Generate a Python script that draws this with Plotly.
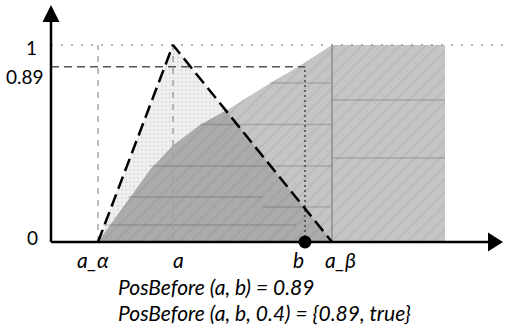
import plotly.graph_objects as go

# ---- data (abstract units) ----
a_alpha = 0.47
a_peak = 1.22
b_pos = 2.54
a_beta = 2.81
block_end = 3.94
pos_value = 0.89

# possibility distribution (triangle)
tri_x = [a_alpha, a_peak, a_beta]
tri_y = [0.0, 1.0, 0.0]

# cumulative "before" curve (upper edge of grey area)
cum_x = [0.47, 0.99, 1.22, 1.49, 1.76, 2.19, 2.52, 2.81, 3.94]
cum_y = [0.0, 0.365, 0.49, 0.594, 0.67, 0.806, 0.905, 1.0, 1.0]

# faint hand-drawn strokes inside the grey area: level, start, end
stroke_y = [0.807, 0.596, 0.386, 0.228, 0.178, 0.086, 0.721, 0.426]
stroke_x0 = [2.19, 1.49, 0.99, 0.77, 2.12, 0.52, 2.81, 2.81]
stroke_x1 = [2.81, 2.81, 2.81, 2.12, 2.79, 2.45, 3.94, 3.94]

x_labels = ["a_α", "a", "b", "a_β"]
x_label_pos = [a_alpha, a_peak, b_pos, a_beta]
y_labels = ["0", "0.89", "1"]
y_label_pos = [0.0, pos_value, 1.0]

line1 = "PosBefore (a, b) = 0.89"
line2 = "PosBefore (a, b, 0.4) = {0.89, true}"

# ---- figure ----
W, H = 505, 329
x_range = [-0.51, 4.54]
y_range = [-0.4416, 1.2284]
px_x = (x_range[1] - x_range[0]) / W
px_y = (y_range[1] - y_range[0]) / H

fig = go.Figure()

# triangle light fill
fig.add_trace(go.Scatter(
    x=tri_x + [tri_x[0]], y=tri_y + [tri_y[0]], mode="lines", fill="toself",
    fillcolor="#eeeeee", line=dict(width=0),
    fillpattern=dict(shape=".", bgcolor="#f2f2f2", fgcolor="#cfcfcf", size=4, solidity=0.4),
    hoverinfo="skip", showlegend=False))

# grey area under cumulative curve
gx = cum_x + [cum_x[-1], cum_x[0]]
gy = cum_y + [0.0, 0.0]
fig.add_trace(go.Scatter(
    x=gx, y=gy, mode="lines", fill="toself", fillcolor="#c4c4c4", line=dict(width=0),
    fillpattern=dict(shape="/", bgcolor="#c5c5c5", fgcolor="#b2b2b2", size=9, solidity=0.25),
    hoverinfo="skip", showlegend=False))

# overlap region: cumulative curve up to where it meets the triangle's right edge
def seg_intersect(p1, p2, p3, p4):
    x1, y1 = p1; x2, y2 = p2; x3, y3 = p3; x4, y4 = p4
    d = (x1 - x2) * (y3 - y4) - (y1 - y2) * (x3 - x4)
    if d == 0:
        return None
    t = ((x1 - x3) * (y3 - y4) - (y1 - y3) * (x3 - x4)) / d
    u = -((x1 - x2) * (y1 - y3) - (y1 - y2) * (x1 - x3)) / d
    if 0 <= t <= 1 and 0 <= u <= 1:
        return (x1 + t * (x2 - x1), y1 + t * (y2 - y1))
    return None

ox, oy = [cum_x[0]], [cum_y[0]]
for i in range(len(cum_x) - 1):
    p = seg_intersect((cum_x[i], cum_y[i]), (cum_x[i + 1], cum_y[i + 1]),
                      (tri_x[1], tri_y[1]), (tri_x[2], tri_y[2]))
    if p is not None and cum_x[i + 1] > tri_x[1]:
        ox.append(p[0]); oy.append(p[1])
        break
    ox.append(cum_x[i + 1]); oy.append(cum_y[i + 1])
ox += [tri_x[2], cum_x[0]]
oy += [0.0, 0.0]
fig.add_trace(go.Scatter(
    x=ox, y=oy, mode="lines", fill="toself", fillcolor="#aaaaaa", line=dict(width=0),
    fillpattern=dict(shape="/", bgcolor="#ababab", fgcolor="#9b9b9b", size=9, solidity=0.25),
    hoverinfo="skip", showlegend=False))

def add_line(xs, ys, color, width, dash="solid"):
    fig.add_trace(go.Scatter(x=xs, y=ys, mode="lines",
                             line=dict(color=color, width=width, dash=dash),
                             hoverinfo="skip", showlegend=False))

# faint strokes
for yv, x0, x1 in zip(stroke_y, stroke_x0, stroke_x1):
    add_line([x0, x1], [yv, yv], "rgba(60,60,60,0.22)", 1.5)

# guide lines
add_line([0, x_range[1]], [1, 1], "#9a9a9a", 1.5, "2px,8px")
add_line([0, b_pos], [pos_value, pos_value], "#555555", 1.5, "8px,5px")
add_line([a_alpha, a_alpha], [0, 1], "#a8a8a8", 1.5, "6px,6px")
add_line([a_peak, a_peak], [0, 1], "#a0a0a0", 1.5, "6px,6px")
add_line([b_pos, b_pos], [0, pos_value], "#444444", 1.5, "2px,3px")
add_line([a_beta, a_beta], [0, 1], "#8c8c8c", 1.5)

# dashed triangle outline
add_line(tri_x, tri_y, "#000000", 2.5, "13px,6px")

# axes with arrowheads
x_arrow_base = 4.37
y_arrow_base = 1.117
add_line([0, x_arrow_base], [0, 0], "#000000", 2.5)
add_line([0, 0], [0, y_arrow_base], "#000000", 2.5)
fig.add_trace(go.Scatter(
    x=[x_arrow_base, x_range[1] - 2 * px_x, x_arrow_base, x_arrow_base],
    y=[9.5 * px_y, 0, -9.5 * px_y, 9.5 * px_y],
    mode="lines", fill="toself", fillcolor="#000000", line=dict(width=0, color="#000000"),
    hoverinfo="skip", showlegend=False))
fig.add_trace(go.Scatter(
    x=[-8.5 * px_x, 0, 8.5 * px_x, -8.5 * px_x],
    y=[y_arrow_base, y_range[1] - 5 * px_y, y_arrow_base, y_arrow_base],
    mode="lines", fill="toself", fillcolor="#000000", line=dict(width=0, color="#000000"),
    hoverinfo="skip", showlegend=False))

# point b
fig.add_trace(go.Scatter(x=[b_pos], y=[0], mode="markers",
                         marker=dict(color="#000000", size=13),
                         hoverinfo="skip", showlegend=False))

fam = "Lato, 'Open Sans', sans-serif"
font_tick = dict(family=fam, size=19, color="#000000")
font_x = dict(family=fam, size=21, color="#000000")
font_text = dict(family=fam, size=21, color="#000000")

# y tick labels
y_off = {"0": 5, "0.89": -10, "1": -2}
x_tick_off = {"0": -11, "0.89": -5, "1": -12}
for lab, yv in zip(y_labels, y_label_pos):
    fig.add_annotation(x=x_tick_off[lab] * px_x, y=yv + y_off[lab] * px_y, text=lab,
                       showarrow=False, xanchor="right", yanchor="middle", font=font_tick)

# x tick labels
x_off = {"a_α": -5, "a": 5, "b": -7, "a_β": 8}
for lab, xv in zip(x_labels, x_label_pos):
    fig.add_annotation(x=xv + x_off[lab] * px_x, y=-17 * px_y, text="<i>" + lab + "</i>",
                       showarrow=False, xanchor="center", yanchor="middle", font=font_x)

# formula text
fig.add_annotation(x=116 * px_x + x_range[0], y=-44 * px_y, text="<i>" + line1 + "</i>",
                   showarrow=False, xanchor="left", yanchor="middle", font=font_text)
fig.add_annotation(x=116 * px_x + x_range[0], y=-70 * px_y, text="<i>" + line2 + "</i>",
                   showarrow=False, xanchor="left", yanchor="middle", font=font_text)

fig.update_layout(
    width=W, height=H, autosize=False,
    margin=dict(l=0, r=0, t=0, b=0, pad=0),
    paper_bgcolor="#ffffff", plot_bgcolor="#ffffff",
    xaxis=dict(range=x_range, visible=False, fixedrange=True),
    yaxis=dict(range=y_range, visible=False, fixedrange=True),
)

fig.write_html("out.html")
